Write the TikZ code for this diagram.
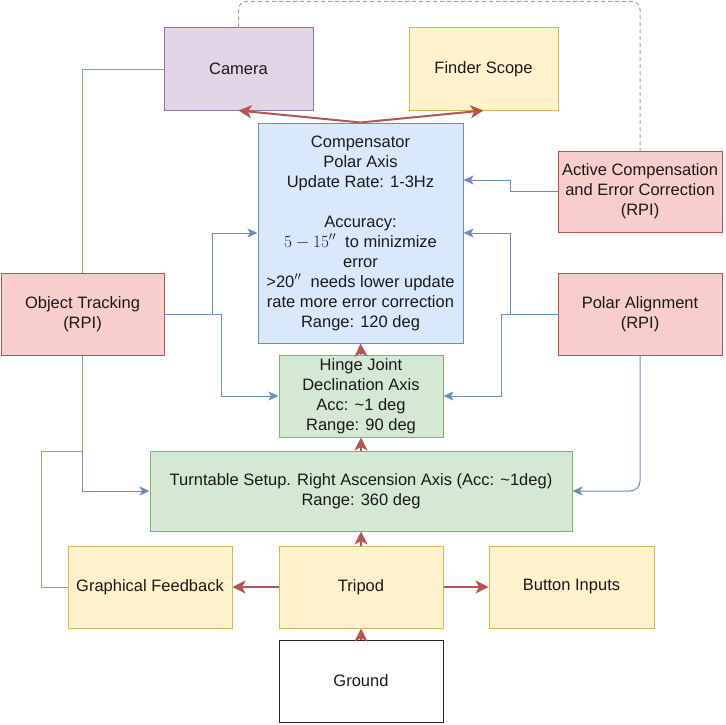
\documentclass[tikz,border=0pt]{standalone}
\usepackage{fontspec}
\setmainfont{Liberation Sans}
\usetikzlibrary{arrows.meta}
\definecolor{purpFill}{HTML}{E1D5E7}\definecolor{purpLine}{HTML}{9673A6}
\definecolor{yelFill}{HTML}{FFF2CC}\definecolor{yelLine}{HTML}{D6B656}
\definecolor{bluFill}{HTML}{DAE8FC}\definecolor{bluLine}{HTML}{6C8EBF}
\definecolor{redFill}{HTML}{F8CECC}\definecolor{redLine}{HTML}{B85450}
\definecolor{grnFill}{HTML}{D5E8D4}\definecolor{grnLine}{HTML}{82B366}
\definecolor{dashLine}{HTML}{9AA596}
\definecolor{txt}{HTML}{1A1A1A}
\tikzset{
  box/.style={draw, line width=1pt, inner sep=0pt, align=center, text=txt,
    font=\fontsize{16.5}{20}\selectfont, minimum width=164pt, minimum height=82pt},
  purpbox/.style={box, fill=purpFill, draw=purpLine},
  yelbox/.style={box, fill=yelFill, draw=yelLine},
  blubox/.style={box, fill=bluFill, draw=bluLine},
  redbox/.style={box, fill=redFill, draw=redLine},
  grnbox/.style={box, fill=grnFill, draw=grnLine},
  plainbox/.style={box, fill=white, draw=black!85},
  redarrow/.style={draw=redLine, line width=2pt,
    -{Stealth[length=13pt, width=13pt, inset=3.5pt, fill=redLine]}},
  bluarrow/.style={draw=bluLine, line width=1pt,
    -{Stealth[length=10pt, width=9pt, inset=2.5pt, fill=bluLine]}},
  grnlink/.style={draw=grnLine, line width=1pt},
  dashlink/.style={draw=dashLine, line width=1pt, dash pattern=on 4pt off 3pt,
    rounded corners=8pt},
}
\begin{document}
\begin{tikzpicture}[x=1pt, y=-1pt]
\useasboundingbox (0,0) rectangle (725,725);

% top row
\node[purpbox, minimum width=149pt] (cam) at (238.5,69) {Camera};
\node[yelbox, minimum width=149pt] (fin) at (483.5,69) {Finder Scope};

% polar axis compensator
\node[blubox, minimum width=205pt, minimum height=220pt] (comp) at (360.5,233)
  {Compensator\\Polar Axis\\Update Rate: 1-3Hz\\[20pt]Accuracy:\\
   \smash{\fontsize{18.5}{20}\selectfont$5-15''$}\ \ to minizmize\\error\\
   >20\smash{$''$}\ \ needs lower update\\rate more error correction\\Range: 120 deg};

% RPI blocks
\node[redbox, minimum height=81pt] (act) at (640,191.5)
  {Active Compensation\\and Error Correction\\(RPI)};
\node[redbox, minimum width=163pt] (obj) at (82.5,314) {Object Tracking\\(RPI)};
\node[redbox] (pol) at (640,314) {Polar Alignment\\(RPI)};

% mount axes
\node[grnbox] (hin) at (361,396)
  {Hinge Joint\\Declination Axis\\Acc: \textasciitilde1 deg\\Range: 90 deg};
\node[grnbox, minimum width=422pt, minimum height=80pt] (tur) at (361,491)
  {Turntable Setup. Right Ascension Axis (Acc: \textasciitilde1deg)\\Range: 360 deg};

% base row
\node[yelbox] (gf) at (150,587) {Graphical Feedback};
\node[yelbox] (tri) at (361,587) {Tripod};
\node[yelbox, minimum width=165pt] (btn) at (571.5,587) {Button Inputs};
\node[plainbox] (gnd) at (361,681) {Ground};

% mechanical stack
\draw[redarrow] (comp.north) -- (cam.south);
\draw[redarrow] (comp.north) -- (fin.south);
\draw[redarrow] (hin.north) -- (comp.south);
\draw[redarrow] (tur.north) -- (hin.south);
\draw[redarrow] (tri.north) -- (tur.south);
\draw[redarrow] (gnd.north) -- (tri.south);
\draw[redarrow] (tri.west) -- (gf.east);
\draw[redarrow] (tri.east) -- (btn.west);

% control signals
\draw[bluarrow] (obj.east) -- ++(47.5,0) |- (comp.west);
\draw[bluarrow] (obj.east) -- ++(56.5,0) |- (hin.west);
\draw[bluarrow] (obj.south) |- (tur.west);
\draw[bluarrow] (act.west) -- ++(-47,0) |- ([yshift=53pt]comp.east);
\draw[bluarrow] (pol.west) -- ++(-47,0) |- (comp.east);
\draw[bluarrow] (pol.west) -- ++(-56,0) |- (hin.east);
\draw[bluarrow, rounded corners=10pt] (pol.south) |- (tur.east);

% feedback links
\draw[grnlink] (cam.west) -| (obj.north);
\draw[grnlink] (gf.west) -- ++(-26,0) |- ([yshift=-96pt]obj.south) -- (obj.south);
\draw[dashlink] (cam.north) -- ++(0,-26) -| (act.north);
\end{tikzpicture}
\end{document}
